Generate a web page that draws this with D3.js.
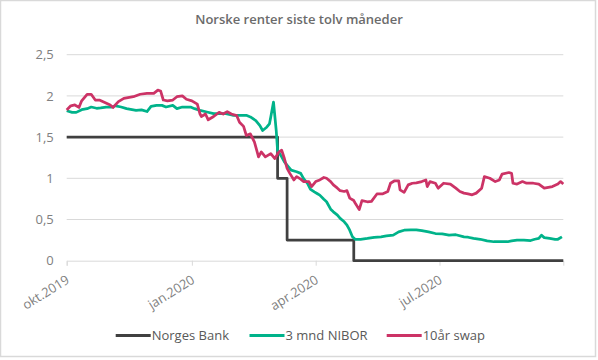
<!DOCTYPE html>
<html><head><meta charset="utf-8">
<script src="https://cdn.jsdelivr.net/npm/d3@7"></script>
<style>
html,body{margin:0;padding:0;background:#fff;}
svg{display:block;font-family:"Open Sans",sans-serif;}
</style></head>
<body><svg id="c" width="598" height="360"></svg>
<script>
const title = "Norske renter siste tolv måneder";
const seriesNames = ["Norges Bank", "3 mnd NIBOR", "10år swap"];
const yTicks = [0, 0.5, 1, 1.5, 2, 2.5];
const yTickLabels = ["0", "0,5", "1", "1,5", "2", "2,5"];
const xTickDates = ["2019-10-10", "2020-01-10", "2020-04-10", "2020-07-10"];
const xTickLabels = ["okt.2019", "jan.2020", "apr.2020", "jul.2020"];
const xDomain = ["2019-10-10", "2020-10-09"];

const nbDates = ["2019-10-10", "2020-03-13", "2020-03-20", "2020-05-08", "2020-10-09"];
const nbValues = [1.5, 1.0, 0.25, 0, 0];

const niborDates = ["2019-10-10","2019-10-14","2019-10-17","2019-10-21","2019-10-25","2019-10-28","2019-11-01","2019-11-04","2019-11-08","2019-11-12","2019-11-15","2019-11-19","2019-11-23","2019-11-27","2019-11-30","2019-12-04","2019-12-08","2019-12-11","2019-12-15","2019-12-19","2019-12-22","2019-12-27","2019-12-30","2020-01-03","2020-01-09","2020-01-12","2020-01-16","2020-01-21","2020-01-26","2020-01-31","2020-02-04","2020-02-09","2020-02-14","2020-02-19","2020-02-22","2020-02-26","2020-02-29","2020-03-02","2020-03-05","2020-03-07","2020-03-08","2020-03-10","2020-03-12","2020-03-13","2020-03-16","2020-03-18","2020-03-21","2020-03-23","2020-03-27","2020-03-30","2020-04-01","2020-04-04","2020-04-06","2020-04-09","2020-04-11","2020-04-13","2020-04-16","2020-04-18","2020-04-21","2020-04-23","2020-04-26","2020-04-28","2020-05-01","2020-05-03","2020-05-05","2020-05-07","2020-05-09","2020-05-13","2020-05-18","2020-05-23","2020-05-28","2020-06-01","2020-06-06","2020-06-10","2020-06-14","2020-06-19","2020-06-23","2020-06-27","2020-07-02","2020-07-07","2020-07-12","2020-07-17","2020-07-22","2020-07-28","2020-07-31","2020-08-04","2020-08-09","2020-08-14","2020-08-19","2020-08-24","2020-08-29","2020-09-01","2020-09-05","2020-09-10","2020-09-15","2020-09-18","2020-09-21","2020-09-23","2020-09-25","2020-09-29","2020-10-03","2020-10-05","2020-10-08"];
const niborValues = [1.82,1.80,1.80,1.833,1.845,1.865,1.85,1.855,1.865,1.865,1.88,1.865,1.845,1.833,1.825,1.83,1.81,1.873,1.885,1.885,1.865,1.885,1.845,1.865,1.865,1.845,1.825,1.805,1.785,1.785,1.785,1.765,1.765,1.765,1.745,1.70,1.64,1.58,1.62,1.66,1.745,1.925,1.58,1.34,1.26,1.20,1.14,1.10,1.08,1.06,1.0,0.937,0.87,0.836,0.816,0.796,0.745,0.715,0.625,0.593,0.553,0.513,0.472,0.432,0.37,0.29,0.26,0.26,0.27,0.283,0.29,0.30,0.31,0.35,0.37,0.375,0.375,0.365,0.35,0.33,0.325,0.31,0.315,0.29,0.285,0.27,0.26,0.24,0.23,0.23,0.23,0.24,0.25,0.25,0.245,0.26,0.27,0.31,0.28,0.27,0.26,0.26,0.29];

const swapDates = ["2019-10-10","2019-10-13","2019-10-16","2019-10-19","2019-10-21","2019-10-25","2019-10-28","2019-10-31","2019-11-03","2019-11-07","2019-11-11","2019-11-13","2019-11-17","2019-11-21","2019-11-24","2019-11-28","2019-12-03","2019-12-08","2019-12-13","2019-12-16","2019-12-18","2019-12-20","2019-12-23","2019-12-27","2019-12-30","2020-01-03","2020-01-06","2020-01-10","2020-01-14","2020-01-16","2020-01-17","2020-01-20","2020-01-22","2020-01-26","2020-01-30","2020-02-02","2020-02-05","2020-02-08","2020-02-12","2020-02-14","2020-02-17","2020-02-19","2020-02-22","2020-02-25","2020-02-28","2020-03-01","2020-03-04","2020-03-08","2020-03-11","2020-03-14","2020-03-16","2020-03-18","2020-03-20","2020-03-22","2020-03-25","2020-03-27","2020-03-30","2020-04-01","2020-04-05","2020-04-07","2020-04-10","2020-04-13","2020-04-16","2020-04-18","2020-04-21","2020-04-23","2020-04-26","2020-04-28","2020-05-01","2020-05-03","2020-05-05","2020-05-08","2020-05-09","2020-05-12","2020-05-14","2020-05-18","2020-05-21","2020-05-25","2020-05-29","2020-06-02","2020-06-04","2020-06-07","2020-06-10","2020-06-11","2020-06-14","2020-06-17","2020-06-20","2020-06-23","2020-06-27","2020-06-30","2020-07-01","2020-07-03","2020-07-07","2020-07-09","2020-07-13","2020-07-18","2020-07-22","2020-07-25","2020-07-28","2020-07-31","2020-08-03","2020-08-06","2020-08-10","2020-08-12","2020-08-16","2020-08-20","2020-08-23","2020-08-25","2020-08-30","2020-09-01","2020-09-02","2020-09-05","2020-09-09","2020-09-12","2020-09-17","2020-09-21","2020-09-25","2020-09-28","2020-10-01","2020-10-05","2020-10-07","2020-10-09"];
const swapValues = [1.83,1.88,1.89,1.86,1.94,2.02,2.02,1.95,1.95,1.92,1.89,1.86,1.93,1.97,1.98,1.99,2.02,2.03,2.03,2.07,2.06,1.95,1.94,1.95,1.99,2.00,1.96,1.94,1.90,1.78,1.75,1.78,1.71,1.75,1.80,1.78,1.81,1.78,1.76,1.68,1.63,1.52,1.54,1.44,1.26,1.32,1.26,1.30,1.24,1.32,1.34,1.24,1.12,1.06,0.98,1.02,0.99,0.96,0.96,0.90,0.96,0.98,1.01,1.00,0.96,0.92,0.88,0.85,0.84,0.85,0.76,0.73,0.70,0.62,0.73,0.715,0.72,0.81,0.81,0.84,0.94,0.97,0.97,0.86,0.83,0.92,0.94,0.945,0.96,0.98,0.90,0.96,0.94,0.88,0.94,0.93,0.88,0.84,0.82,0.81,0.80,0.82,0.88,1.02,1.00,0.96,0.98,1.05,1.07,1.06,0.94,0.93,0.96,0.94,0.94,0.93,0.88,0.89,0.90,0.93,0.96,0.93];

const colors = ["#404040", "#00b38a", "#cc3366"];

const parse = d3.timeParse("%Y-%m-%d");
const svg = d3.select("#c");
const W = 598, H = 360;

svg.append("rect").attr("x", 0.5).attr("y", 0.5).attr("width", W - 3).attr("height", H - 4)
  .attr("fill", "#fff").attr("stroke", "#d9d9d9").attr("stroke-width", 1.5);

const x = d3.scaleTime().domain(xDomain.map(parse)).range([66.7, 563.3]);
const y = d3.scaleLinear().domain([0, 2.5]).range([260.7, 54.7]);

svg.append("text").attr("x", 299).attr("y", 24).attr("text-anchor", "middle")
  .attr("font-size", 13).attr("font-weight", 600).attr("fill", "#6b6b6b").text(title);

// gridlines
svg.append("g").selectAll("line").data(yTicks.filter(d => d > 0)).join("line")
  .attr("x1", 66.7).attr("x2", 563.3).attr("y1", d => y(d)).attr("y2", d => y(d))
  .attr("stroke", "#d9d9d9").attr("stroke-width", 1);

// y axis labels
const yAxis = d3.axisLeft(y).tickValues(yTicks).tickSize(0).tickPadding(13)
  .tickFormat((d, i) => yTickLabels[i]);
const gy = svg.append("g").attr("transform", "translate(66.7,0)").call(yAxis);
gy.select(".domain").remove();
gy.selectAll("text").attr("font-size", 13).attr("fill", "#808080").attr("font-family", "Open Sans");

// x axis
const xAxis = d3.axisBottom(x).tickValues(xTickDates.map(parse)).tickSize(5).tickPadding(4)
  .tickFormat((d, i) => xTickLabels[i]);
const gx = svg.append("g").attr("transform", "translate(0," + y(0) + ")").call(xAxis);
gx.select(".domain").attr("stroke", "#d9d9d9");
gx.selectAll(".tick line").attr("stroke", "#d9d9d9");
gx.selectAll("text").attr("font-size", 13).attr("fill", "#808080").attr("font-family", "Open Sans")
  .attr("text-anchor", "end").attr("dy", "0.35em")
  .attr("transform", "translate(-4,10) rotate(-32)");

// lines
const series = [
  {dates: nbDates, values: nbValues, curve: d3.curveStepAfter},
  {dates: niborDates, values: niborValues, curve: d3.curveLinear},
  {dates: swapDates, values: swapValues, curve: d3.curveLinear}
];
series.forEach((s, i) => {
  const pts = s.dates.map((d, k) => [parse(d), s.values[k]]);
  const line = d3.line().x(p => x(p[0])).y(p => y(p[1])).curve(s.curve);
  svg.append("path").datum(pts).attr("d", line).attr("fill", "none")
    .attr("stroke", colors[i]).attr("stroke-width", 2.75)
    .attr("stroke-linejoin", "round").attr("stroke-linecap", "butt");
});

// legend
const legendX = [115.7, 249.5, 386.7];
const leg = svg.append("g");
seriesNames.forEach((n, i) => {
  leg.append("line").attr("x1", legendX[i]).attr("x2", legendX[i] + 35)
    .attr("y1", 335.5).attr("y2", 335.5).attr("stroke", colors[i]).attr("stroke-width", 3);
  leg.append("text").attr("x", legendX[i] + 36).attr("y", 340).attr("font-size", 13)
    .attr("fill", "#595959").text(n);
});
</script></body></html>
